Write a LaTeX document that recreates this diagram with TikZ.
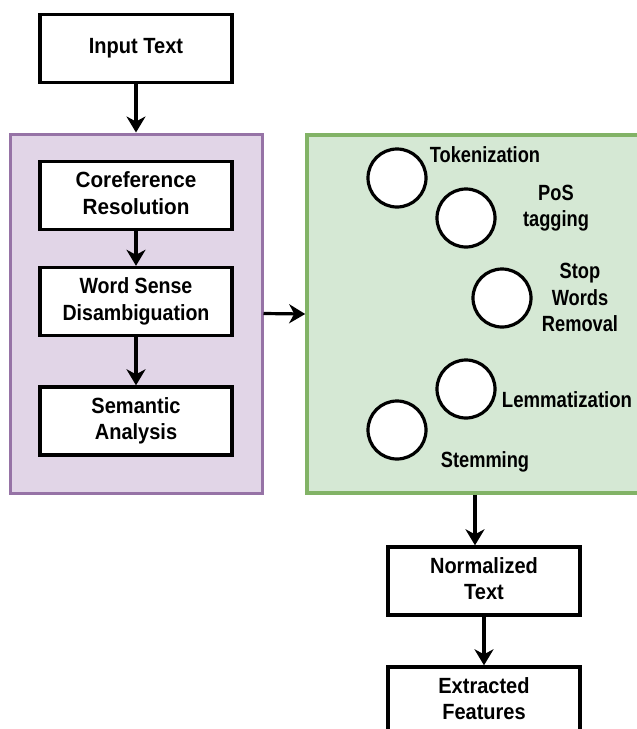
\documentclass[tikz,border=0pt]{standalone}
\usepackage{fontspec}
\setmainfont{Liberation Sans}
\usetikzlibrary{arrows.meta}
\definecolor{purpfill}{HTML}{E1D5E7}
\definecolor{purpline}{HTML}{9673A6}
\definecolor{greenfill}{HTML}{D5E8D4}
\definecolor{greenline}{HTML}{82B366}
\newcommand{\sqz}[2]{\raisebox{-1.5pt}{\scalebox{#1}[1]{\begin{tabular}{@{}c@{}}#2\end{tabular}}}}
\begin{document}
\begin{tikzpicture}[x=1pt,y=-1pt,
  lbl/.style={font=\fontsize{22}{26.5}\selectfont\bfseries, align=center, inner sep=0pt},
  stepbox/.style={lbl, draw=black, line width=3.4pt, fill=white, minimum width=192pt, minimum height=68pt},
  circ/.style={circle, draw=black, line width=3.2pt, fill=white, minimum size=58pt, inner sep=0pt},
  arr/.style={line width=3.2pt, -{Stealth[length=16pt,width=19pt,inset=5pt]}}]
\useasboundingbox (0,0) rectangle (637,729);
\begin{scope}
\clip (0,0) rectangle (637,729);
% containers
\node[draw=purpline, fill=purpfill, line width=3pt, minimum width=252pt, minimum height=359pt, inner sep=0pt] (purple) at (136,313.5) {};
\node[draw=greenline, fill=greenfill, line width=3.6pt, minimum width=340pt, minimum height=358pt, inner sep=0pt] (green) at (477,314) {};
% boxes
\node[stepbox] (input) at (136,48.5) {\sqz{0.91}{Input Text}};
\node[stepbox] (coref) at (136,195.5) {\sqz{0.94}{Coreference\\Resolution}};
\node[stepbox] (wsd) at (136,301.5) {\sqz{0.89}{Word Sense\\Disambiguation}};
\node[stepbox] (sem) at (136,421) {\sqz{0.91}{Semantic\\Analysis}};
\node[stepbox] (norm) at (484,581) {\sqz{0.91}{Normalized\\Text}};
\node[stepbox] (extr) at (484,701) {\sqz{0.91}{Extracted\\Features}};
% circles
\node[circ] (c1) at (397,178) {};
\node[circ] (c2) at (466,218) {};
\node[circ] (c3) at (502,298) {};
\node[circ] (c4) at (466,389) {};
\node[circ] (c5) at (397,430) {};
% labels
\node[lbl] (t1) at (485,157) {\sqz{0.83}{Tokenization}};
\node[lbl] (t2) at (556,208) {\sqz{0.83}{PoS\\tagging}};
\node[lbl] (t3) at (580,300) {\sqz{0.83}{Stop\\Words\\Removal}};
\node[lbl] (t4) at (567,402) {\sqz{0.845}{Lemmatization}};
\node[lbl] (t5) at (485,462) {\sqz{0.83}{Stemming}};
% arrows
\draw[arr] (input.south) -- (purple.north);
\draw[arr] (coref.south) -- (wsd.north);
\draw[arr] (wsd.south) -- (sem.north);
\draw[arr] (purple.east) -- (green.west);
\coordinate (gs) at ([xshift=-9pt]norm.north);
\draw[arr] (green.south -| gs) -- (gs);
\draw[arr] (norm.south) -- (extr.north);
\end{scope}
\end{tikzpicture}
\end{document}
